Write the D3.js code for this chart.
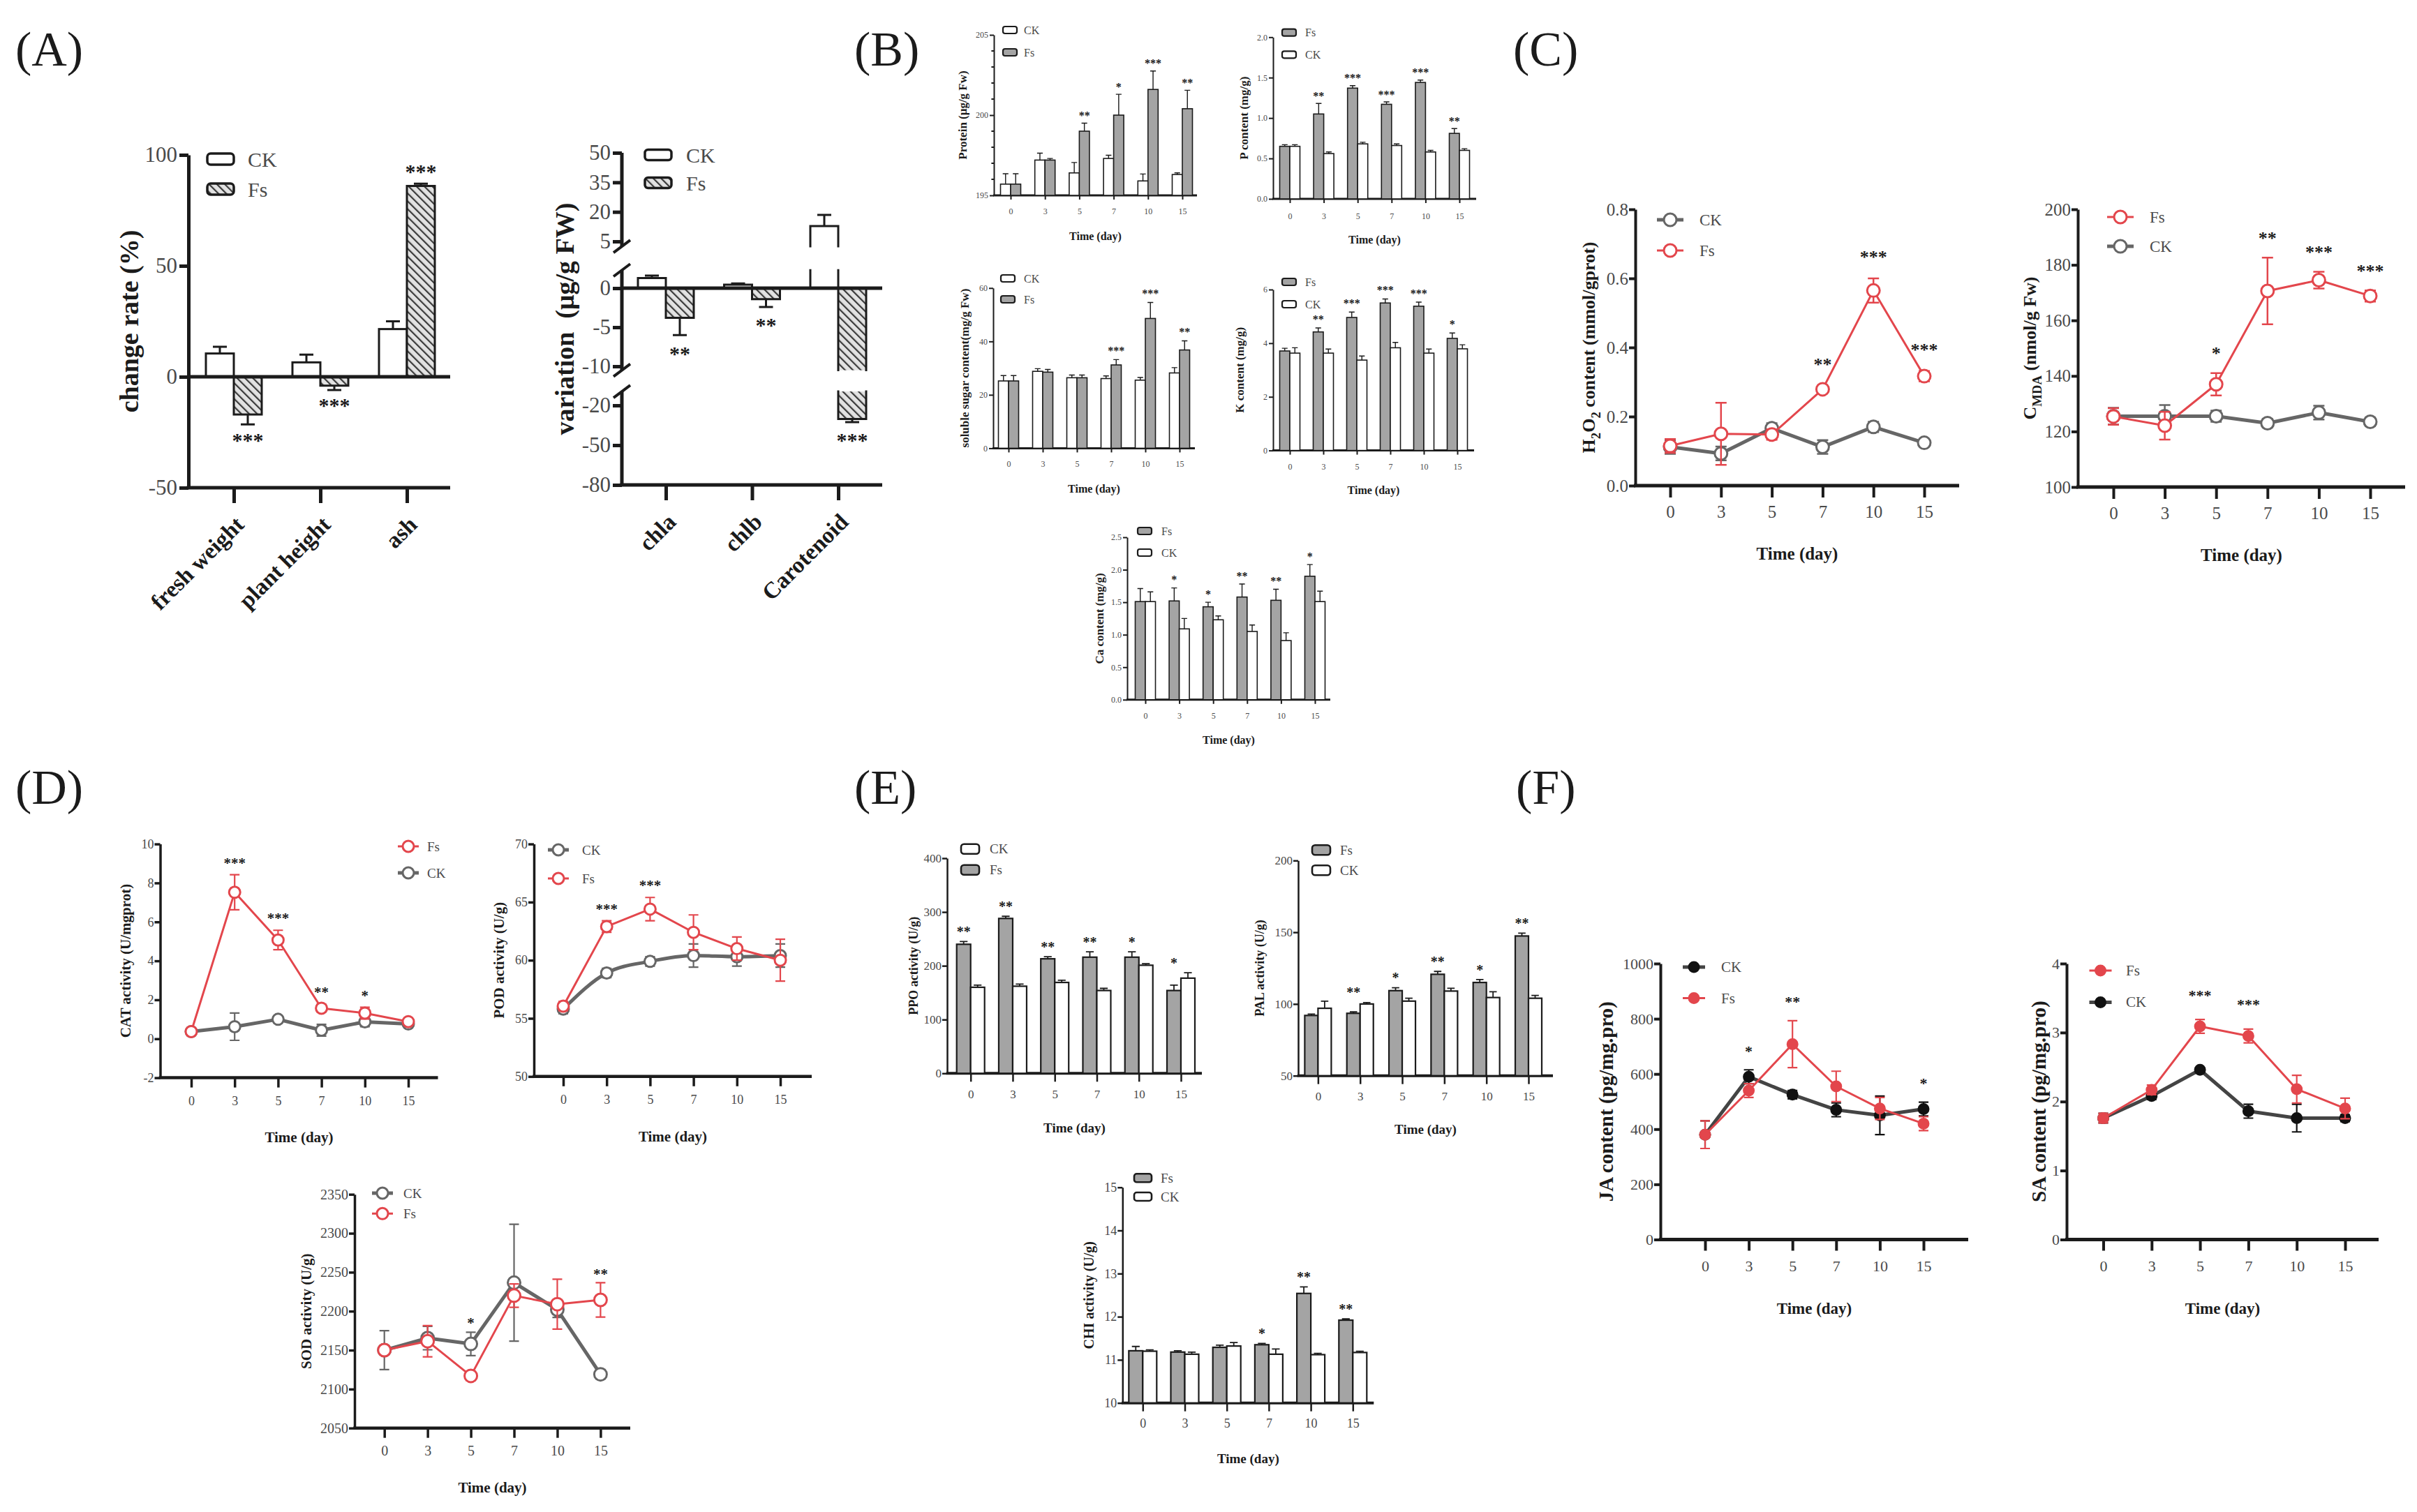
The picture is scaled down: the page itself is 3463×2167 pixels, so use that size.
<!DOCTYPE html>
<html>
<head>
<meta charset="utf-8">
<script src="https://cdn.jsdelivr.net/npm/d3@7"></script>
<style>
  html, body { margin: 0; padding: 0; background: #fff; }
  svg { display: block; }
</style>
</head>
<body>
<script>
// ---------- data ----------
const days = ["0", "3", "5", "7", "10", "15"];
const groups = ["CK", "Fs"];

// (A) growth change rate (%)
const growthCats = ["fresh weight", "plant height", "ash"];
const growthCK = [10.5, 6.5, 21.5];
const growthCKErr = [3, 3.5, 3.5];
const growthFs = [-17, -4, 86];
const growthFsErr = [4.5, 2, 1];
const growthStars = ["***", "***", "***"];
const growthTicks = [-50, 0, 50, 100];

// (A) pigment variation (ug/g FW), broken axis
const pigmentCats = ["chla", "chlb", "Carotenoid"];
const pigmentCK = [1.3, 0.45, 12.8];
const pigmentCKErr = [0.3, 0.15, 5.7];
const pigmentFs = [-3.8, -1.4, -30.3];
const pigmentFsErr = [2.2, 1.0, 2.3];
const pigmentStars = ["**", "**", "***"];
const pigmentTicksTop = [5, 20, 35, 50];
const pigmentTicksMid = [-10, -5, 0];
const pigmentTicksLow = [-80, -50, -20];

// (B)
const proteinCK = [195.7, 197.2, 196.4, 197.3, 195.9, 196.3];
const proteinCKErr = [0.65, 0.43, 0.65, 0.2, 0.43, 0.1];
const proteinFs = [195.7, 197.2, 199.0, 200.0, 201.6, 200.4];
const proteinFsErr = [0.65, 0.1, 0.5, 1.3, 1.15, 1.15];
const proteinStars = ["", "", "**", "*", "***", "**"];
const proteinTicks = [195, 200, 205];
const proteinMinor = [196, 197, 198, 199, 201, 202, 203, 204];

const phosFs = [0.65, 1.05, 1.37, 1.17, 1.44, 0.81];
const phosFsErr = [0.02, 0.13, 0.03, 0.03, 0.03, 0.06];
const phosCK = [0.65, 0.56, 0.68, 0.66, 0.58, 0.60];
const phosCKErr = [0.02, 0.02, 0.02, 0.02, 0.02, 0.02];
const phosStars = ["", "**", "***", "***", "***", "**"];
const phosTicks = [0, 0.5, 1, 1.5, 2];

const sugarCK = [25.2, 28.8, 26.4, 26.1, 25.5, 28.2];
const sugarCKErr = [2, 1, 1, 1, 1, 2];
const sugarFs = [25.2, 28.5, 26.4, 31.2, 48.6, 36.8];
const sugarFsErr = [2, 1, 1, 2, 6, 3.4];
const sugarStars = ["", "", "", "***", "***", "**"];
const sugarTicks = [0, 20, 40, 60];

const kFs = [3.71, 4.42, 4.96, 5.50, 5.38, 4.18];
const kFsErr = [0.1, 0.15, 0.2, 0.15, 0.15, 0.2];
const kCK = [3.63, 3.63, 3.37, 3.83, 3.63, 3.79];
const kCKErr = [0.2, 0.15, 0.15, 0.2, 0.15, 0.15];
const kStars = ["", "**", "***", "***", "***", "*"];
const kTicks = [0, 2, 4, 6];

const caFs = [1.51, 1.52, 1.43, 1.58, 1.53, 1.90];
const caFsErr = [0.2, 0.2, 0.07, 0.2, 0.17, 0.18];
const caCK = [1.51, 1.09, 1.23, 1.05, 0.91, 1.51];
const caCKErr = [0.15, 0.16, 0.06, 0.1, 0.12, 0.16];
const caStars = ["", "*", "*", "**", "**", "*"];
const caTicks = [0, 0.5, 1, 1.5, 2, 2.5];

// (C)
const h2o2CK = [0.112, 0.093, 0.166, 0.112, 0.170, 0.124];
const h2o2CKErr = [0.02, 0.02, 0.015, 0.02, 0.015, 0.01];
const h2o2Fs = [0.115, 0.150, 0.148, 0.279, 0.565, 0.317];
const h2o2FsErr = [0.02, 0.09, 0.015, 0.01, 0.035, 0.015];
const h2o2Stars = ["", "", "", "**", "***", "***"];
const h2o2Ticks = [0, 0.2, 0.4, 0.6, 0.8];

const mdaFs = [125.4, 122.1, 137.0, 170.6, 174.5, 168.8];
const mdaFsErr = [3, 5, 4, 12, 3, 2];
const mdaCK = [125.5, 125.5, 125.5, 123.0, 126.8, 123.5];
const mdaCKErr = [3, 4, 2, 1.5, 2.5, 1.5];
const mdaStars = ["", "", "*", "**", "***", "***"];
const mdaTicks = [100, 120, 140, 160, 180, 200];

// (D)
const catFs = [0.37, 7.52, 5.07, 1.57, 1.32, 0.88];
const catFsErr = [0.1, 0.9, 0.5, 0.2, 0.3, 0.15];
const catCK = [0.37, 0.62, 1.0, 0.44, 0.87, 0.76];
const catCKErr = [0.15, 0.7, 0.15, 0.3, 0.25, 0.15];
const catStars = ["", "***", "***", "**", "*", ""];
const catTicks = [-2, 0, 2, 4, 6, 8, 10];

const podCK = [55.8, 58.9, 59.9, 60.4, 60.3, 60.4];
const podCKErr = [0.4, 0.4, 0.4, 1.0, 0.8, 1.0];
const podFs = [56.05, 62.9, 64.4, 62.4, 61.0, 60.0];
const podFsErr = [0.4, 0.5, 1.0, 1.5, 1.0, 1.8];
const podStars = ["", "***", "***", "", "", ""];
const podTicks = [50, 55, 60, 65, 70];

const sodCK = [2150, 2165.5, 2158, 2236.6, 2202, 2119];
const sodCKErr = [25, 15, 15, 75, 10, 6];
const sodFs = [2150, 2161.5, 2117, 2220, 2209, 2214.5];
const sodFsErr = [5, 20, 6, 15, 32, 22];
const sodStars = ["", "", "*", "", "", "**"];
const sodTicks = [2050, 2100, 2150, 2200, 2250, 2300, 2350];

// (E)
const ppoFs = [240, 288, 213, 216, 216, 154];
const ppoFsErr = [5, 4, 4, 10, 10, 10];
const ppoCK = [160, 162, 169, 154, 201, 177];
const ppoCKErr = [4, 4, 4, 4, 3, 10];
const ppoStars = ["**", "**", "**", "**", "*", "*"];
const ppoTicks = [0, 100, 200, 300, 400];

const palFs = [92, 93.5, 109.3, 120.7, 115, 147.4];
const palFsErr = [1, 1, 2, 2, 2, 2];
const palCK = [97, 100, 102, 109, 104.5, 104];
const palCKErr = [5, 1, 2, 2, 4, 2];
const palStars = ["", "**", "*", "**", "*", "**"];
const palTicks = [50, 100, 150, 200];

const chiFs = [11.21, 11.18, 11.29, 11.35, 12.54, 11.92];
const chiFsErr = [0.1, 0.03, 0.05, 0.03, 0.15, 0.03];
const chiCK = [11.2, 11.13, 11.32, 11.13, 11.12, 11.17];
const chiCKErr = [0.03, 0.05, 0.08, 0.12, 0.03, 0.03];
const chiStars = ["", "", "", "*", "**", "**"];
const chiTicks = [10, 11, 12, 13, 14, 15];

// (F)
const jaCK = [380, 590, 525, 470, 450, 473];
const jaCKErr = [50, 25, 15, 25, 70, 25];
const jaFs = [380, 540, 708, 555, 475, 420];
const jaFsErr = [50, 25, 85, 55, 40, 25];
const jaStars = ["", "*", "**", "", "", "*"];
const jaTicks = [0, 200, 400, 600, 800, 1000];

const saFs = [1.76, 2.17, 3.09, 2.95, 2.18, 1.90];
const saFsErr = [0.07, 0.07, 0.1, 0.1, 0.2, 0.15];
const saCK = [1.76, 2.08, 2.46, 1.86, 1.76, 1.76];
const saCKErr = [0.07, 0.05, 0.03, 0.1, 0.2, 0.05];
const saStars = ["", "", "***", "***", "", ""];
const saTicks = [0, 1, 2, 3, 4];

// ---------- styles ----------
const FONT = "'Liberation Serif','Times New Roman',Times,serif";
const INK = "#1b1b1b";
const TICKINK = "#4a4a4a";
const RED = "#e3464c";
const GREY = "#666666";
const BARGREY = "#a4a4a4";
const plain = d => String(d);   // keep "-50" with a hyphen like the original

const svg = d3.select("body").append("svg")
    .attr("width", 3463).attr("height", 2167)
    .attr("viewBox", "0 0 3463 2167")
    .attr("font-family", FONT);
svg.append("rect").attr("width", 3463).attr("height", 2167).attr("fill", "#fff");

const defs = svg.append("defs");
const hatch = defs.append("pattern").attr("id", "hatch")
    .attr("patternUnits", "userSpaceOnUse").attr("width", 8).attr("height", 8)
    .attr("patternTransform", "rotate(-45)");
hatch.append("rect").attr("width", 8).attr("height", 8).attr("fill", "#e2e2e2");
hatch.append("line").attr("x1", 1).attr("x2", 1).attr("y1", 0).attr("y2", 8)
    .attr("stroke", "#3a3a3a").attr("stroke-width", 2.4);

function styleAxis(a, w, font) {
    a.attr("font-family", FONT).attr("font-size", font);
    a.select(".domain").attr("stroke", INK).attr("stroke-width", w);
    a.selectAll(".tick line").attr("stroke", INK).attr("stroke-width", w);
    a.selectAll(".tick text").attr("fill", TICKINK);
}

function richText(sel, parts) {
    parts.forEach(p => {
        const ts = sel.append("tspan").text(p.t);
        if (p.sub) ts.attr("baseline-shift", "sub").attr("font-size", "72%");
    });
}

function starText(g, x, y, s, font) {
    // y is the visual centre of the asterisks
    g.append("text").attr("x", x).attr("y", y + 0.48 * font)
        .attr("text-anchor", "middle").attr("font-size", font)
        .attr("font-weight", "bold").attr("fill", INK).text(s);
}

function panelLabel(txt, x, y) {
    svg.append("text").attr("x", x).attr("y", y).attr("font-size", 70)
        .attr("fill", INK).text(txt);
}

// ---------- generic time-course frame ----------
function frame(c) {
    const g = svg.append("g");
    const x = d3.scalePoint().domain(days).range([c.x0, c.x1]);
    const y = d3.scaleLinear().domain(c.domain).range([c.py0, c.py1]);
    const fmt = c.fmt || plain;

    g.append("g").attr("transform", `translate(${c.ax},0)`)
        .call(d3.axisLeft(y).tickValues(c.ticks).tickFormat(fmt)
            .tickSize(c.tickLen).tickSizeOuter(0).tickPadding(c.tickPad))
        .call(a => styleAxis(a, c.axisW, c.tickFont));

    if (c.minor) {
        g.append("g").selectAll("line").data(c.minor).join("line")
            .attr("x1", c.ax).attr("x2", c.ax - c.tickLen * 0.6)
            .attr("y1", d => y(d)).attr("y2", d => y(d))
            .attr("stroke", INK).attr("stroke-width", c.axisW);
    }

    g.append("line")
        .attr("x1", c.ax - c.axisW / 2).attr("x2", c.xEnd)
        .attr("y1", c.py0).attr("y2", c.py0)
        .attr("stroke", INK).attr("stroke-width", c.xAxisW);

    g.append("g").attr("transform", `translate(0,${c.py0})`)
        .call(d3.axisBottom(x).tickSize(c.xTickLen)
            .tickPadding(c.xLabGap - c.xTickLen - 0.38 * c.tickFont))
        .call(a => { a.select(".domain").remove(); styleAxis(a, c.axisW, c.tickFont); });

    const yl = g.append("text")
        .attr("transform", `translate(${c.ylabX},${(c.py0 + c.py1) / 2}) rotate(-90)`)
        .attr("text-anchor", "middle").attr("dominant-baseline", "central")
        .attr("font-size", c.ylabFont).attr("font-weight", "bold").attr("fill", INK);
    richText(yl, c.ylab);

    g.append("text").attr("x", (c.ax + c.xEnd) / 2).attr("y", c.xlabY)
        .attr("text-anchor", "middle").attr("dominant-baseline", "central")
        .attr("font-size", c.xlabFont).attr("font-weight", "bold").attr("fill", INK)
        .text("Time (day)");

    return { g, x, y };
}

function pairBars(f, c, series, fsIdx, stars) {
    const bw = c.barW, base = f.y(c.domain[0]);
    series.forEach((s, k) => {
        const dx = k === 0 ? -bw : 0;
        const gg = f.g.append("g");
        gg.selectAll("path.err").data(s.vals).join("path").attr("class", "err")
            .attr("d", (d, i) => {
                const cx = f.x(days[i]) + dx + bw / 2, y1 = f.y(d + s.errs[i]), h = bw * 0.28;
                return `M${cx},${f.y(d)}V${y1}M${cx - h},${y1}H${cx + h}`;
            })
            .attr("stroke", INK).attr("stroke-width", c.errW).attr("fill", "none");
        gg.selectAll("rect").data(s.vals).join("rect")
            .attr("x", (d, i) => f.x(days[i]) + dx).attr("width", bw)
            .attr("y", d => f.y(d)).attr("height", d => base - f.y(d))
            .attr("fill", s.fill).attr("stroke", INK).attr("stroke-width", c.barStroke);
    });
    const sg = f.g.append("g");
    stars.forEach((s, i) => {
        if (!s) return;
        const top = d3.min(series, se => f.y(se.vals[i] + se.errs[i]));
        const cx = f.x(days[i]) + (fsIdx === 0 ? -bw / 2 : bw / 2);
        starText(sg, cx, top - c.starGap, s, c.starFont);
    });
}

function lineSeries(f, c, series, stars) {
    series.forEach(s => {
        const gg = f.g.append("g");
        gg.selectAll("path.err").data(s.vals).join("path").attr("class", "err")
            .attr("d", (d, i) => {
                const cx = f.x(days[i]), a = f.y(d - s.errs[i]), b = f.y(d + s.errs[i]), h = c.cap;
                return `M${cx},${a}V${b}M${cx - h},${a}H${cx + h}M${cx - h},${b}H${cx + h}`;
            })
            .attr("stroke", s.color).attr("stroke-width", c.errW).attr("fill", "none");
        gg.append("path").datum(s.vals)
            .attr("d", d3.line().x((d, i) => f.x(days[i])).y(d => f.y(d)).curve(s.curve || d3.curveLinear))
            .attr("fill", "none").attr("stroke", s.line || s.color).attr("stroke-width", s.lw)
            .attr("stroke-linejoin", "round");
        gg.selectAll("circle").data(s.vals).join("circle")
            .attr("cx", (d, i) => f.x(days[i])).attr("cy", d => f.y(d)).attr("r", c.r)
            .attr("fill", s.filled ? s.color : "#fff").attr("stroke", s.color).attr("stroke-width", 3);
    });
    const sg = f.g.append("g");
    stars.forEach((s, i) => {
        if (!s) return;
        const top = d3.min(series, se => f.y(se.vals[i] + se.errs[i]));
        starText(sg, f.x(days[i]), top - c.starGap, s, c.starFont);
    });
}

function boxLegend(L, entries) {
    const g = svg.append("g");
    entries.forEach((e, i) => {
        const cy = L.y + i * L.dy;
        g.append("rect").attr("x", L.x - L.bw / 2).attr("y", cy - L.bh / 2)
            .attr("width", L.bw).attr("height", L.bh).attr("rx", L.bh * 0.3)
            .attr("fill", e.fill).attr("stroke", INK).attr("stroke-width", L.sw);
        g.append("text").attr("x", L.tx).attr("y", cy).attr("dominant-baseline", "central")
            .attr("font-size", L.font).attr("fill", TICKINK).text(e.label);
    });
}

function lineLegend(L, entries) {
    const g = svg.append("g");
    entries.forEach((e, i) => {
        const cy = L.y + i * L.dy;
        g.append("line").attr("x1", L.x - L.len / 2).attr("x2", L.x + L.len / 2)
            .attr("y1", cy).attr("y2", cy).attr("stroke", e.line || e.color).attr("stroke-width", e.lw);
        g.append("circle").attr("cx", L.x).attr("cy", cy).attr("r", L.r)
            .attr("fill", e.filled ? e.color : "#fff").attr("stroke", e.color).attr("stroke-width", 3);
        g.append("text").attr("x", L.tx).attr("y", cy).attr("dominant-baseline", "central")
            .attr("font-size", L.font).attr("fill", TICKINK).text(e.label);
    });
}

// ---------- panel labels ----------
panelLabel("(A)", 22, 94);
panelLabel("(B)", 1224, 94);
panelLabel("(C)", 2168, 94);
panelLabel("(D)", 22, 1152);
panelLabel("(E)", 1224, 1152);
panelLabel("(F)", 2172, 1152);

// ---------- (A) growth ----------
(function () {
    const g = svg.append("g");
    const ax = 270, xEnd = 645, bw = 40;
    const x = d3.scalePoint().domain(growthCats).range([335, 583]);
    const y = d3.scaleLinear().domain([-50, 100]).range([699, 222]);

    g.append("g").attr("transform", `translate(${ax},0)`)
        .call(d3.axisLeft(y).tickValues(growthTicks).tickFormat(plain)
            .tickSize(13).tickSizeOuter(0).tickPadding(3))
        .call(a => styleAxis(a, 5, 31));

    const series = [
        { vals: growthCK, errs: growthCKErr, fill: "#fff", dx: -bw },
        { vals: growthFs, errs: growthFsErr, fill: "url(#hatch)", dx: 0 }
    ];
    series.forEach(s => {
        g.append("g").selectAll("path").data(s.vals).join("path")
            .attr("d", (d, i) => {
                const cx = x(growthCats[i]) + s.dx + bw / 2;
                const e = d >= 0 ? d + s.errs[i] : d - s.errs[i];
                return `M${cx},${y(d)}V${y(e)}M${cx - 10},${y(e)}H${cx + 10}`;
            })
            .attr("stroke", INK).attr("stroke-width", 3).attr("fill", "none");
        g.append("g").selectAll("rect").data(s.vals).join("rect")
            .attr("x", (d, i) => x(growthCats[i]) + s.dx).attr("width", bw)
            .attr("y", d => y(Math.max(0, d))).attr("height", d => Math.abs(y(d) - y(0)))
            .attr("fill", s.fill).attr("stroke", INK).attr("stroke-width", 3);
    });

    g.append("line").attr("x1", ax).attr("x2", xEnd).attr("y1", y(0)).attr("y2", y(0))
        .attr("stroke", INK).attr("stroke-width", 5);
    g.append("line").attr("x1", ax - 2.5).attr("x2", xEnd).attr("y1", y(-50)).attr("y2", y(-50))
        .attr("stroke", INK).attr("stroke-width", 5);

    g.append("g").attr("transform", `translate(0,${y(-50)})`)
        .call(d3.axisBottom(x).tickSize(22))
        .call(a => {
            a.select(".domain").remove();
            styleAxis(a, 5, 33);
            a.selectAll(".tick text").attr("fill", INK).attr("font-weight", "bold")
                .attr("text-anchor", "end").attr("x", 0).attr("y", 0).attr("dy", 0)
                .attr("transform", "translate(16,55) rotate(-45)");
        });

    growthStars.forEach((s, i) => {
        const v = growthFs[i], e = growthFsErr[i], cx = x(growthCats[i]) + bw / 2;
        const cy = v >= 0 ? y(v + e) - 22 : y(v - e) + 18;
        starText(g, cx, cy, s, 30);
    });

    g.append("text").attr("transform", `translate(185,${(699 + 222) / 2}) rotate(-90)`)
        .attr("text-anchor", "middle").attr("dominant-baseline", "central")
        .attr("font-size", 38).attr("font-weight", "bold").attr("fill", INK)
        .text("change rate (%)");

    boxLegend({ x: 316, y: 228, dy: 43, tx: 355, font: 30, bw: 38, bh: 16, sw: 3.5 },
        [{ label: groups[0], fill: "#fff" }, { label: groups[1], fill: "url(#hatch)" }]);
})();

// ---------- (A) pigments, broken axis ----------
(function () {
    const g = svg.append("g");
    const ax = 891, xEnd = 1264, bw = 40;
    const x = d3.scalePoint().domain(pigmentCats).range([954, 1201]);
    const segs = [
        { y: d3.scaleLinear().domain([5, 50]).range([346, 219]), lo: 2.5, hi: 50, ticks: pigmentTicksTop },
        { y: d3.scaleLinear().domain([-10, 0]).range([525, 413]), lo: -10.5, hi: 2.3, ticks: pigmentTicksMid },
        { y: d3.scaleLinear().domain([-80, -20]).range([695, 581]), lo: -80, hi: -9.5, ticks: pigmentTicksLow }
    ];
    const py = v => (segs.find(s => v >= s.lo && v <= s.hi) || segs[1]).y(v);

    segs.forEach((s, k) => {
        g.append("g").attr("transform", `translate(${ax},0)`)
            .call(d3.axisLeft(s.y).tickValues(s.ticks).tickFormat(plain)
                .tickSize(13).tickSizeOuter(0).tickPadding(3))
            .call(a => { styleAxis(a, 5, 31); a.select(".domain").remove(); });
        g.append("line").attr("x1", ax).attr("x2", ax).attr("y1", s.y(s.lo)).attr("y2", s.y(s.hi))
            .attr("stroke", INK).attr("stroke-width", 5);
        const ends = [];
        if (k < 2) ends.push(s.y(s.lo));
        if (k > 0) ends.push(s.y(s.hi));
        ends.forEach(yy => g.append("line")
            .attr("x1", ax - 12).attr("x2", ax + 12).attr("y1", yy + 9).attr("y2", yy - 9)
            .attr("stroke", INK).attr("stroke-width", 4));
    });

    const series = [
        { vals: pigmentCK, errs: pigmentCKErr, fill: "#fff", dx: -bw },
        { vals: pigmentFs, errs: pigmentFsErr, fill: "url(#hatch)", dx: 0 }
    ];
    series.forEach(s => {
        s.vals.forEach((v, i) => {
            const x0 = x(pigmentCats[i]) + s.dx, x1 = x0 + bw, cx = x0 + bw / 2;
            const e = v >= 0 ? v + s.errs[i] : v - s.errs[i];
            g.append("path").attr("d", `M${cx},${py(v)}V${py(e)}M${cx - 10},${py(e)}H${cx + 10}`)
                .attr("stroke", INK).attr("stroke-width", 3).attr("fill", "none");
            const a = Math.min(0, v), b = Math.max(0, v);
            segs.forEach(seg => {
                const lo = Math.max(a, seg.lo), hi = Math.min(b, seg.hi);
                if (hi <= lo) return;
                const yT = seg.y(hi), yB = seg.y(lo);
                g.append("rect").attr("x", x0).attr("width", bw).attr("y", yT).attr("height", yB - yT)
                    .attr("fill", s.fill);
                let d = `M${x0},${yB}V${yT}M${x1},${yB}V${yT}`;
                if (v > 0 && hi === v) d += `M${x0},${yT}H${x1}`;
                if (v < 0 && lo === v) d += `M${x0},${yB}H${x1}`;
                g.append("path").attr("d", d).attr("stroke", INK).attr("stroke-width", 3)
                    .attr("fill", "none").attr("stroke-linecap", "square");
            });
        });
    });

    g.append("line").attr("x1", ax).attr("x2", xEnd).attr("y1", py(0)).attr("y2", py(0))
        .attr("stroke", INK).attr("stroke-width", 5);
    g.append("line").attr("x1", ax - 2.5).attr("x2", xEnd).attr("y1", py(-80)).attr("y2", py(-80))
        .attr("stroke", INK).attr("stroke-width", 5);

    g.append("g").attr("transform", `translate(0,${py(-80)})`)
        .call(d3.axisBottom(x).tickSize(22))
        .call(a => {
            a.select(".domain").remove();
            styleAxis(a, 5, 33);
            a.selectAll(".tick text").attr("fill", INK).attr("font-weight", "bold")
                .attr("text-anchor", "end").attr("x", 0).attr("y", 0).attr("dy", 0)
                .attr("transform", "translate(16,55) rotate(-45)");
        });

    pigmentStars.forEach((s, i) => {
        const v = pigmentFs[i], e = pigmentFsErr[i];
        starText(g, x(pigmentCats[i]) + bw / 2, py(v - e) + 22, s, 30);
    });

    g.append("text").attr("transform", `translate(809,${(695 + 219) / 2}) rotate(-90)`)
        .attr("text-anchor", "middle").attr("dominant-baseline", "central")
        .attr("font-size", 38).attr("font-weight", "bold").attr("fill", INK)
        .text("variation\u00a0\u00a0(\u03bcg/g FW)");

    boxLegend({ x: 943, y: 222, dy: 40, tx: 983, font: 30, bw: 38, bh: 15, sw: 3.5 },
        [{ label: groups[0], fill: "#fff" }, { label: groups[1], fill: "url(#hatch)" }]);
})();

// ---------- (B) bar charts ----------
const styleB = { tickLen: 6, tickPad: 2, tickFont: 12, axisW: 2, xAxisW: 3, xTickLen: 6, xLabGap: 23,
    ylabFont: 17, xlabFont: 16, barW: 14.5, barStroke: 1.6, errW: 1.4, starFont: 16, starGap: 13 };
const legB = { bw: 20, bh: 10, font: 16, sw: 2.2 };
const ckBox = { label: groups[0], fill: "#fff" }, fsBox = { label: groups[1], fill: BARGREY };

(function () {
    const c = Object.assign({}, styleB, { ax: 1424, xEnd: 1715, x0: 1448, x1: 1694, py0: 280, py1: 50,
        domain: [195, 205], ticks: proteinTicks, minor: proteinMinor, ylabX: 1379, xlabY: 338,
        ylab: [{ t: "Protein (\u03bcg/g Fw)" }] });
    const f = frame(c);
    pairBars(f, c, [{ vals: proteinCK, errs: proteinCKErr, fill: "#fff" },
                    { vals: proteinFs, errs: proteinFsErr, fill: BARGREY }], 1, proteinStars);
    boxLegend(Object.assign({ x: 1447, y: 43, dy: 32, tx: 1467 }, legB), [ckBox, fsBox]);
})();

(function () {
    const c = Object.assign({}, styleB, { ax: 1824, xEnd: 2115, x0: 1848, x1: 2091, py0: 285, py1: 53.3,
        domain: [0, 2], ticks: phosTicks, fmt: d3.format(".1f"), ylabX: 1782, xlabY: 343, xLabGap: 25,
        ylab: [{ t: "P content (mg/g)" }] });
    const f = frame(c);
    pairBars(f, c, [{ vals: phosFs, errs: phosFsErr, fill: BARGREY },
                    { vals: phosCK, errs: phosCKErr, fill: "#fff" }], 0, phosStars);
    boxLegend(Object.assign({ x: 1847, y: 46.7, dy: 31.6, tx: 1870 }, legB), [fsBox, ckBox]);
})();

(function () {
    const c = Object.assign({}, styleB, { ax: 1423, xEnd: 1712, x0: 1445, x1: 1690, py0: 642.4, py1: 412.8,
        domain: [0, 60], ticks: sugarTicks, ylabX: 1382, xlabY: 700, starGap: 15,
        ylab: [{ t: "soluble sugar content(mg/g Fw)" }] });
    const f = frame(c);
    pairBars(f, c, [{ vals: sugarCK, errs: sugarCKErr, fill: "#fff" },
                    { vals: sugarFs, errs: sugarFsErr, fill: BARGREY }], 1, sugarStars);
    boxLegend(Object.assign({ x: 1444, y: 399, dy: 30, tx: 1467 }, legB), [ckBox, fsBox]);
})();

(function () {
    const c = Object.assign({}, styleB, { ax: 1824, xEnd: 2112, x0: 1848, x1: 2088, py0: 645.6, py1: 415,
        domain: [0, 6], ticks: kTicks, ylabX: 1776, xlabY: 702, starGap: 15,
        ylab: [{ t: "K content (mg/g)" }] });
    const f = frame(c);
    pairBars(f, c, [{ vals: kFs, errs: kFsErr, fill: BARGREY },
                    { vals: kCK, errs: kCKErr, fill: "#fff" }], 0, kStars);
    boxLegend(Object.assign({ x: 1847, y: 404, dy: 32, tx: 1870 }, legB), [fsBox, ckBox]);
})();

(function () {
    const c = Object.assign({}, styleB, { ax: 1615, xEnd: 1906, x0: 1641, x1: 1884, py0: 1002.8, py1: 770,
        domain: [0, 2.5], ticks: caTicks, fmt: d3.format(".1f"), ylabX: 1575, xlabY: 1060, starGap: 14,
        ylab: [{ t: "Ca content (mg/g)" }] });
    const f = frame(c);
    pairBars(f, c, [{ vals: caFs, errs: caFsErr, fill: BARGREY },
                    { vals: caCK, errs: caCKErr, fill: "#fff" }], 0, caStars);
    boxLegend(Object.assign({ x: 1640, y: 761, dy: 31, tx: 1664 }, legB), [fsBox, ckBox]);
})();

// ---------- (C) line charts ----------
const styleC = { tickLen: 9, tickPad: 1, tickFont: 25, axisW: 4, xAxisW: 5, xTickLen: 17, xLabGap: 38,
    ylabFont: 26, xlabFont: 25, starFont: 26, starGap: 34, r: 9, errW: 2.5, cap: 8 };
const ckGrey = { label: groups[0], color: GREY, lw: 5 }, fsRed = { label: groups[1], color: RED, lw: 3 };

(function () {
    const c = Object.assign({}, styleC, { ax: 2343, xEnd: 2807, x0: 2393, x1: 2757, py0: 696, py1: 300,
        domain: [0, 0.8], ticks: h2o2Ticks, fmt: d3.format(".1f"), ylabX: 2276, xlabY: 793,
        ylab: [{ t: "H" }, { t: "2", sub: true }, { t: "O" }, { t: "2", sub: true }, { t: " content (mmol/gprot)" }] });
    const f = frame(c);
    lineSeries(f, c, [Object.assign({ vals: h2o2CK, errs: h2o2CKErr }, ckGrey),
                      Object.assign({ vals: h2o2Fs, errs: h2o2FsErr }, fsRed)], h2o2Stars);
    lineLegend({ x: 2393, y: 315, dy: 44, tx: 2435, font: 23, len: 38, r: 9 }, [ckGrey, fsRed]);
})();

(function () {
    const c = Object.assign({}, styleC, { ax: 2977, xEnd: 3446, x0: 3028, x1: 3396, py0: 698, py1: 300,
        domain: [100, 200], ticks: mdaTicks, ylabX: 2908, xlabY: 795, starGap: 32,
        ylab: [{ t: "C" }, { t: "MDA", sub: true }, { t: " (nmol/g Fw)" }] });
    const f = frame(c);
    lineSeries(f, c, [Object.assign({ vals: mdaCK, errs: mdaCKErr }, ckGrey),
                      Object.assign({ vals: mdaFs, errs: mdaFsErr }, fsRed)], mdaStars);
    lineLegend({ x: 3038, y: 311, dy: 42, tx: 3080, font: 23, len: 38, r: 9 }, [fsRed, ckGrey]);
})();

// ---------- (D) line charts ----------
const styleD = { tickLen: 8, tickPad: 1, tickFont: 18, axisW: 3.5, xAxisW: 4.5, xTickLen: 14, xLabGap: 33,
    ylabFont: 21, xlabFont: 21, starFont: 21, starGap: 20, r: 8, errW: 2.2, cap: 7 };

(function () {
    const c = Object.assign({}, styleD, { ax: 229.5, xEnd: 627.5, x0: 274, x1: 585, py0: 1544.6, py1: 1209.6,
        domain: [-2, 10], ticks: catTicks, ylabX: 180, xlabY: 1630,
        ylab: [{ t: "CAT activity (U/mgprot)" }] });
    const f = frame(c);
    lineSeries(f, c, [Object.assign({ vals: catCK, errs: catCKErr }, ckGrey),
                      Object.assign({ vals: catFs, errs: catFsErr }, fsRed)], catStars);
    lineLegend({ x: 585, y: 1213, dy: 38, tx: 612, font: 19, len: 30, r: 8 }, [fsRed, ckGrey]);
})();

(function () {
    const c = Object.assign({}, styleD, { ax: 765, xEnd: 1163, x0: 807, x1: 1118, py0: 1542.8, py1: 1209.6,
        domain: [50, 70], ticks: podTicks, ylabX: 715, xlabY: 1629,
        ylab: [{ t: "POD activity (U/g)" }] });
    const f = frame(c);
    lineSeries(f, c, [Object.assign({ vals: podCK, errs: podCKErr, curve: d3.curveMonotoneX }, ckGrey),
                      Object.assign({ vals: podFs, errs: podFsErr }, fsRed)], podStars);
    lineLegend({ x: 800, y: 1218, dy: 41, tx: 834, font: 19, len: 30, r: 8 }, [ckGrey, fsRed]);
})();

(function () {
    const c = Object.assign({}, styleD, { ax: 508, xEnd: 903, x0: 550.7, x1: 860.4, py0: 2046.7, py1: 1711.7,
        domain: [2050, 2350], ticks: sodTicks, tickFont: 20, ylabX: 439, xlabY: 2131.7, starGap: 16, r: 9,
        ylab: [{ t: "SOD activity (U/g)" }] });
    const f = frame(c);
    lineSeries(f, c, [Object.assign({ vals: sodCK, errs: sodCKErr }, ckGrey),
                      Object.assign({ vals: sodFs, errs: sodFsErr }, fsRed)], sodStars);
    lineLegend({ x: 548, y: 1710, dy: 29.3, tx: 578, font: 19, len: 30, r: 8 }, [ckGrey, fsRed]);
})();

// ---------- (E) bar charts ----------
const styleE = { tickLen: 7, tickPad: 1, tickFont: 17, axisW: 2.5, xAxisW: 4, xTickLen: 12, xLabGap: 30,
    ylabFont: 18, xlabFont: 19, barW: 20, barStroke: 2.2, errW: 1.8, starFont: 20, starGap: 17 };
const legE = { bw: 26, bh: 14, font: 19, sw: 2.6 };

(function () {
    const c = Object.assign({}, styleE, { ax: 1357, xEnd: 1722, x0: 1390.7, x1: 1692, py0: 1538.3, py1: 1230,
        domain: [0, 400], ticks: ppoTicks, ylabX: 1309, xlabY: 1616.7,
        ylab: [{ t: "PPO activity (U/g)" }] });
    const f = frame(c);
    pairBars(f, c, [{ vals: ppoFs, errs: ppoFsErr, fill: BARGREY },
                    { vals: ppoCK, errs: ppoCKErr, fill: "#fff" }], 0, ppoStars);
    boxLegend(Object.assign({ x: 1390, y: 1216.7, dy: 30, tx: 1418 }, legE), [ckBox, fsBox]);
})();

(function () {
    const c = Object.assign({}, styleE, { ax: 1860, xEnd: 2225, x0: 1888.4, x1: 2190, py0: 1541.7, py1: 1233.3,
        domain: [50, 200], ticks: palTicks, ylabX: 1805, xlabY: 1618.3, barW: 19,
        ylab: [{ t: "PAL activity (U/g)" }] });
    const f = frame(c);
    pairBars(f, c, [{ vals: palFs, errs: palFsErr, fill: BARGREY },
                    { vals: palCK, errs: palCKErr, fill: "#fff" }], 0, palStars);
    boxLegend(Object.assign({ x: 1893, y: 1218.3, dy: 29, tx: 1920 }, legE), [fsBox, ckBox]);
})();

(function () {
    const c = Object.assign({}, styleE, { ax: 1608.3, xEnd: 1968.3, x0: 1637.3, x1: 1938.3, py0: 2010.7, py1: 1701.7,
        domain: [10, 15], ticks: chiTicks, tickFont: 18, ylabFont: 20, ylabX: 1560, xlabY: 2090, xLabGap: 29,
        ylab: [{ t: "CHI activity (U/g)" }] });
    const f = frame(c);
    pairBars(f, c, [{ vals: chiFs, errs: chiFsErr, fill: BARGREY },
                    { vals: chiCK, errs: chiCKErr, fill: "#fff" }], 0, chiStars);
    boxLegend(Object.assign({ x: 1637.5, y: 1688.3, dy: 26.7, tx: 1663 }, legE, { bw: 25, bh: 12 }), [fsBox, ckBox]);
})();

// ---------- (F) line charts ----------
const styleF = { tickLen: 9, tickPad: 1, tickFont: 22, axisW: 4, xAxisW: 5, xTickLen: 16, xLabGap: 38,
    ylabFont: 29, xlabFont: 23, starFont: 22, starGap: 30, r: 7, errW: 2.2, cap: 7 };
const ckBlack = { label: groups[0], color: "#111", line: "#444", lw: 5, filled: true };
const fsRedF = { label: groups[1], color: RED, lw: 3, filled: true };

(function () {
    const c = Object.assign({}, styleF, { ax: 2379, xEnd: 2820, x0: 2443, x1: 2756, py0: 1776.5, py1: 1381,
        domain: [0, 1000], ticks: jaTicks, ylabX: 2301, xlabY: 1875,
        ylab: [{ t: "JA content (pg/mg.pro)" }] });
    const f = frame(c);
    lineSeries(f, c, [Object.assign({ vals: jaCK, errs: jaCKErr }, ckBlack),
                      Object.assign({ vals: jaFs, errs: jaFsErr }, fsRedF)], jaStars);
    lineLegend({ x: 2427, y: 1386, dy: 44.5, tx: 2466, font: 21, len: 32, r: 7 }, [ckBlack, fsRedF]);
})();

(function () {
    const c = Object.assign({}, styleF, { ax: 2961, xEnd: 3408, x0: 3013.5, x1: 3360, py0: 1776.5, py1: 1381,
        domain: [0, 4], ticks: saTicks, ylabX: 2921, xlabY: 1875, starGap: 38,
        ylab: [{ t: "SA content (pg/mg.pro)" }] });
    const f = frame(c);
    lineSeries(f, c, [Object.assign({ vals: saCK, errs: saCKErr }, ckBlack),
                      Object.assign({ vals: saFs, errs: saFsErr }, fsRedF)], saStars);
    lineLegend({ x: 3009.5, y: 1391, dy: 45.4, tx: 3046, font: 21, len: 32, r: 7 }, [fsRedF, ckBlack]);
})();
</script>
</body>
</html>
